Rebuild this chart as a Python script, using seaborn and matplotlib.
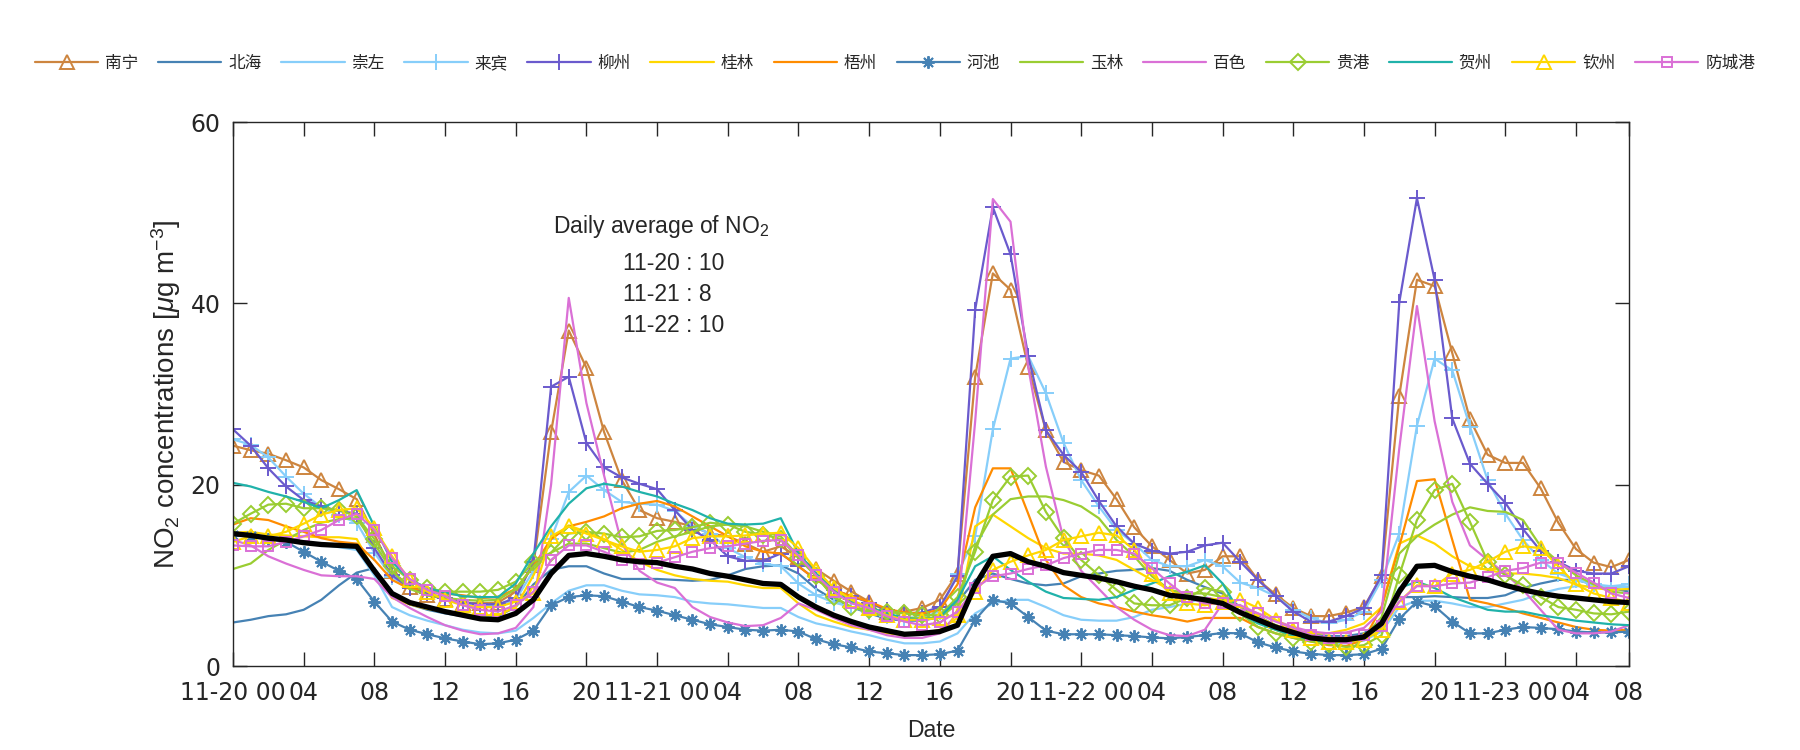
import numpy as np
import seaborn as sns
import matplotlib.pyplot as plt

# hourly NO2, 11-20 00:00 .. 11-23 07:00 (80 hours)
hours = np.arange(80)

cities = ["南宁", "北海", "崇左", "来宾", "柳州", "桂林", "梧州",
          "河池", "玉林", "百色", "贵港", "贺州", "钦州", "防城港"]

nanning = [24.3, 23.8, 23.4, 22.7, 21.9, 20.5, 19.5, 18.4, 14.5, 10.5, 8.7, 7.8, 7.4, 7.0, 6.9, 7.0, 8.2, 11.1, 25.8, 37.0, 32.9, 25.8, 20.5, 17.2,
           16.3, 15.9, 15.4, 14.6, 14.3, 13.5, 12.6, 13.2, 12.0, 10.7, 9.4, 8.2, 7.1, 6.0, 6.0, 6.4, 7.3, 10.2, 31.9, 43.3, 41.5, 33.0, 26.0, 22.5,
           21.6, 21.0, 18.4, 15.3, 13.2, 11.7, 10.2, 10.6, 12.1, 12.1, 9.5, 7.9, 6.4, 5.5, 5.5, 5.9, 6.5, 9.9, 29.8, 42.6, 41.9, 34.5, 27.2, 23.3,
           22.4, 22.4, 19.6, 15.8, 12.9, 11.4, 10.9, 11.7]
beihai = [4.8, 5.1, 5.5, 5.7, 6.2, 7.3, 8.9, 10.3, 10.8, 8.0, 6.8, 6.2, 5.8, 5.5, 5.3, 5.5, 6.5, 9.0, 10.6, 11.0, 11.0, 10.2, 9.6, 9.6,
          9.6, 9.5, 9.4, 9.5, 10.0, 10.7, 11.0, 11.1, 10.2, 8.5, 7.3, 6.5, 5.8, 5.2, 5.0, 5.0, 5.4, 7.0, 9.5, 10.2, 9.6, 9.1, 8.9, 9.1,
          9.9, 10.2, 10.5, 10.6, 10.8, 10.5, 9.5, 8.7, 8.0, 6.5, 5.5, 4.5, 3.8, 3.5, 3.3, 3.3, 3.6, 5.0, 7.6, 7.6, 7.7, 7.6, 7.5, 7.5,
          7.8, 8.6, 9.1, 9.5, 9.5, 9.0, 8.6, 8.2]
chongzuo = [14.6, 14.3, 14.1, 14.0, 13.7, 13.4, 13.1, 12.8, 10.0, 6.5, 5.6, 5.0, 4.5, 4.0, 3.7, 3.6, 3.9, 5.3, 6.9, 8.3, 8.9, 8.9, 8.3, 7.9,
            7.8, 7.6, 7.1, 6.9, 6.8, 6.6, 6.4, 6.4, 5.4, 4.7, 4.3, 3.8, 3.4, 2.9, 2.5, 2.5, 2.7, 3.6, 5.8, 6.9, 7.3, 7.3, 6.5, 5.6,
            5.1, 5.0, 5.0, 5.4, 6.2, 6.5, 6.9, 7.6, 7.1, 6.0, 4.9, 4.2, 3.6, 3.0, 2.6, 2.5, 2.8, 3.8, 6.5, 7.2, 7.2, 6.9, 6.5, 6.5,
            6.9, 7.3, 8.0, 8.5, 8.8, 8.8, 8.7, 8.7]
laibin = [25.0, 24.4, 23.0, 20.9, 19.0, 17.5, 16.6, 15.8, 12.5, 9.8, 8.6, 8.0, 7.5, 7.0, 6.7, 6.7, 7.3, 10.5, 14.0, 19.2, 21.0, 19.4, 18.1, 17.9,
          17.8, 17.1, 15.4, 14.6, 13.0, 12.0, 11.3, 11.0, 9.1, 7.8, 7.0, 6.5, 6.0, 5.5, 5.3, 5.4, 6.0, 10.2, 14.3, 26.1, 33.9, 34.2, 30.1, 24.6,
          20.5, 17.6, 15.0, 13.5, 11.7, 11.0, 11.0, 11.7, 11.0, 9.2, 8.6, 7.7, 6.2, 5.3, 4.7, 5.1, 6.0, 9.5, 14.6, 26.5, 33.9, 32.6, 26.4, 20.5,
          16.8, 13.9, 11.7, 10.2, 9.5, 9.0, 8.8, 9.0]
liuzhou = [26.1, 24.3, 21.8, 19.8, 18.3, 17.6, 17.1, 16.8, 13.0, 10.0, 8.6, 8.0, 7.5, 7.0, 6.8, 6.8, 7.5, 11.5, 30.8, 31.9, 24.6, 21.9, 20.8, 20.1,
           19.5, 17.2, 15.0, 13.9, 12.1, 11.6, 11.6, 12.4, 11.0, 9.5, 8.4, 7.7, 7.0, 6.2, 5.8, 5.9, 6.5, 9.9, 39.3, 50.6, 45.4, 34.2, 26.0, 23.3,
           21.4, 18.2, 15.4, 13.5, 12.7, 12.4, 12.6, 13.3, 13.6, 11.5, 9.5, 7.7, 6.0, 4.9, 4.9, 5.5, 6.4, 10.0, 40.1, 51.6, 42.6, 27.3, 22.3, 20.1,
           18.0, 15.1, 12.7, 11.5, 10.5, 10.2, 10.2, 11.0]
guilin = [14.7, 14.8, 14.5, 14.4, 14.3, 14.2, 14.2, 14.0, 10.5, 7.5, 6.8, 6.3, 6.0, 5.7, 5.6, 5.6, 6.5, 10.0, 14.0, 15.5, 14.8, 14.0, 12.8, 11.5,
          10.6, 10.0, 9.6, 9.4, 9.3, 8.9, 8.6, 8.6, 6.9, 5.6, 4.9, 4.3, 4.0, 3.6, 3.4, 3.6, 4.0, 5.3, 15.4, 16.7, 15.4, 14.1, 13.0, 12.4,
          12.4, 12.2, 11.7, 10.6, 9.5, 8.4, 7.6, 7.5, 7.3, 6.5, 5.4, 4.5, 4.0, 3.6, 3.6, 4.0, 4.7, 6.5, 13.5, 14.4, 13.5, 12.1, 11.0, 10.6,
          10.2, 10.2, 10.0, 9.7, 9.0, 8.6, 8.4, 8.5]
wuzhou = [15.6, 16.3, 16.1, 15.4, 14.8, 14.1, 13.7, 13.5, 11.7, 9.5, 8.5, 8.4, 8.0, 7.8, 7.5, 7.6, 8.5, 11.0, 14.0, 15.4, 15.9, 16.5, 17.4, 17.9,
          18.2, 17.6, 16.5, 15.4, 14.3, 13.2, 12.6, 12.4, 11.0, 9.5, 8.4, 7.7, 7.1, 6.3, 5.9, 5.8, 6.2, 9.0, 17.5, 21.8, 21.8, 16.8, 11.7, 8.9,
          7.6, 6.9, 6.5, 6.0, 5.6, 5.3, 4.9, 5.3, 5.3, 5.3, 4.3, 3.6, 3.1, 2.7, 2.3, 2.2, 2.9, 6.5, 13.2, 20.4, 20.6, 13.9, 7.3, 6.9,
          6.4, 5.8, 5.3, 4.8, 4.3, 4.0, 3.9, 4.0]
hechi = [14.5, 14.3, 14.0, 13.7, 12.6, 11.5, 10.5, 9.6, 7.1, 4.9, 4.0, 3.5, 3.05, 2.7, 2.4, 2.5, 2.9, 3.9, 6.7, 7.6, 7.8, 7.7, 7.1, 6.5,
         6.1, 5.6, 5.1, 4.6, 4.3, 4.0, 3.9, 4.0, 3.8, 2.95, 2.4, 2.05, 1.6, 1.4, 1.2, 1.2, 1.3, 1.7, 5.1, 7.3, 6.9, 5.4, 3.9, 3.5,
         3.5, 3.5, 3.4, 3.3, 3.15, 3.05, 3.2, 3.4, 3.65, 3.6, 2.6, 2.05, 1.6, 1.35, 1.2, 1.2, 1.3, 1.9, 5.2, 7.1, 6.6, 4.9, 3.6, 3.6,
         4.0, 4.3, 4.2, 4.05, 3.8, 3.7, 3.7, 3.8]
yulin = [10.7, 11.3, 12.8, 13.9, 15.0, 15.8, 16.2, 16.3, 13.5, 10.5, 8.5, 7.8, 7.5, 7.3, 7.2, 7.3, 8.5, 11.0, 12.5, 13.5, 13.5, 13.0, 12.5, 12.8,
         13.7, 14.3, 14.8, 15.4, 15.6, 15.4, 14.8, 14.3, 12.1, 9.9, 7.6, 6.5, 6.0, 5.4, 5.3, 5.3, 5.3, 6.9, 13.2, 16.7, 18.4, 18.7, 18.7, 18.3,
         17.6, 16.3, 13.9, 12.1, 9.9, 8.4, 8.0, 8.0, 7.6, 5.8, 4.9, 4.0, 3.2, 2.9, 2.7, 2.7, 3.1, 5.4, 12.4, 14.3, 15.6, 16.7, 17.5, 17.1,
         17.0, 16.1, 13.2, 11.5, 10.0, 9.0, 8.2, 8.0]
baise = [13.9, 13.3, 12.1, 11.3, 10.6, 10.0, 9.9, 9.9, 9.6, 7.6, 6.4, 5.4, 4.5, 3.9, 3.5, 3.6, 4.2, 6.5, 20.0, 40.6, 29.0, 21.0, 13.5, 10.5,
         9.2, 8.6, 6.5, 5.4, 4.8, 4.4, 4.5, 5.3, 6.9, 6.2, 5.3, 4.5, 4.0, 3.4, 3.1, 3.1, 3.6, 5.8, 27.0, 51.5, 49.0, 33.0, 22.0, 14.0,
         10.5, 8.5, 6.5, 5.1, 4.0, 3.4, 3.3, 4.0, 6.9, 6.5, 5.8, 5.0, 4.3, 3.8, 3.6, 3.7, 4.2, 6.0, 24.0, 39.7, 27.0, 18.1, 13.3, 11.7,
         10.2, 8.4, 6.2, 4.0, 3.6, 3.6, 3.8, 4.5]
guigang = [15.7, 16.8, 17.8, 17.9, 17.4, 17.4, 17.2, 16.5, 14.0, 11.0, 9.5, 8.6, 8.2, 8.2, 8.2, 8.4, 9.3, 11.5, 12.5, 14.6, 14.8, 14.6, 14.2, 14.3,
           14.9, 15.0, 15.3, 15.8, 15.6, 14.8, 14.5, 14.0, 11.9, 9.9, 7.6, 6.5, 6.2, 6.0, 5.8, 5.6, 5.6, 7.6, 12.6, 18.3, 20.9, 21.0, 17.0, 14.1,
           11.7, 10.0, 8.4, 6.9, 6.7, 6.7, 7.5, 8.6, 8.2, 5.8, 4.3, 3.6, 3.1, 2.7, 2.4, 2.1, 2.3, 3.4, 10.0, 16.1, 19.4, 20.1, 15.9, 11.5,
           10.0, 8.9, 7.6, 6.5, 6.2, 5.8, 5.7, 6.0]
hezhou = [20.2, 19.8, 19.2, 18.7, 18.1, 17.4, 18.3, 19.4, 15.4, 11.5, 9.5, 8.6, 8.1, 7.7, 7.6, 7.6, 9.1, 12.4, 15.4, 17.9, 19.6, 20.1, 19.8, 19.2,
          18.7, 17.9, 17.2, 16.3, 15.7, 15.6, 15.7, 16.3, 12.4, 10.2, 8.4, 7.1, 6.5, 5.8, 5.3, 5.1, 5.4, 7.3, 11.0, 12.1, 10.6, 9.3, 8.2, 7.5,
          7.4, 7.3, 7.6, 8.4, 9.1, 9.9, 10.4, 11.1, 9.1, 5.8, 4.7, 4.0, 3.4, 2.9, 2.7, 2.7, 3.1, 4.7, 8.6, 9.3, 8.6, 7.6, 6.9, 6.2,
          6.0, 6.0, 5.6, 5.3, 5.0, 4.8, 4.6, 4.5]
qinzhou = [13.7, 14.3, 14.3, 14.8, 15.7, 16.7, 17.2, 17.4, 15.2, 12.1, 9.5, 8.2, 7.3, 6.7, 6.5, 6.5, 7.1, 8.0, 14.3, 15.4, 14.6, 13.9, 13.2, 12.6,
           12.8, 13.2, 14.1, 14.3, 14.3, 14.4, 14.6, 14.7, 13.0, 10.6, 8.6, 7.3, 6.4, 5.6, 5.1, 5.1, 5.3, 5.6, 8.2, 10.6, 11.5, 12.2, 12.8, 13.9,
           14.3, 14.7, 14.4, 12.8, 10.2, 8.0, 6.9, 6.7, 7.1, 7.3, 6.4, 5.1, 4.0, 3.1, 2.7, 2.7, 2.9, 4.0, 7.1, 8.9, 8.8, 10.2, 10.6, 11.5,
           12.6, 13.2, 13.0, 11.0, 9.0, 8.0, 7.5, 7.0]
fangchenggang = [13.3, 13.2, 13.2, 13.7, 14.3, 15.0, 16.1, 16.8, 15.0, 11.9, 9.6, 8.4, 7.7, 6.7, 6.2, 6.0, 6.7, 8.2, 11.7, 13.3, 13.3, 12.6, 11.7, 11.3,
                 11.4, 12.0, 12.6, 13.0, 13.2, 13.5, 13.8, 13.9, 12.2, 10.0, 8.2, 6.9, 6.4, 5.5, 4.9, 4.5, 4.8, 6.0, 8.6, 9.9, 10.2, 10.7, 11.1, 11.9,
                 12.4, 12.8, 12.8, 12.4, 10.8, 9.1, 7.6, 6.9, 6.9, 6.7, 5.8, 4.9, 4.2, 3.4, 3.1, 3.1, 3.4, 4.4, 7.1, 8.8, 8.8, 9.1, 9.2, 9.8,
                 10.5, 10.8, 11.4, 11.4, 10.3, 9.2, 8.0, 7.5]
average = [14.6, 14.4, 14.1, 13.9, 13.6, 13.4, 13.3, 13.2, 10.5, 8.0, 7.0, 6.5, 6.0, 5.6, 5.2, 5.1, 5.8, 7.3, 10.2, 12.2, 12.4, 12.1, 11.7, 11.5,
           11.4, 11.0, 10.7, 10.2, 9.9, 9.5, 9.1, 9.0, 7.6, 6.5, 5.6, 4.9, 4.3, 3.9, 3.5, 3.6, 3.8, 4.5, 8.9, 12.1, 12.4, 11.5, 11.0, 10.3,
           10.0, 9.7, 9.3, 8.8, 8.4, 7.8, 7.6, 7.3, 6.9, 5.9, 5.1, 4.3, 3.7, 3.1, 2.9, 2.9, 3.2, 4.7, 8.2, 11.0, 11.1, 10.4, 9.9, 9.5,
           8.9, 8.4, 8.0, 7.7, 7.5, 7.3, 7.1, 7.0]

series = [nanning, beihai, chongzuo, laibin, liuzhou, guilin, wuzhou,
          hechi, yulin, baise, guigang, hezhou, qinzhou, fangchenggang]

tick_hours = [0, 4, 8, 12, 16, 20, 24, 28, 32, 36, 40, 44, 48, 52, 56, 60, 64, 68, 72, 76, 79]
tick_labels = ["11-20 00", "04", "08", "12", "16", "20",
               "11-21 00", "04", "08", "12", "16", "20",
               "11-22 00", "04", "08", "12", "16", "20",
               "11-23 00", "04", "08"]

avg_days = ["11-20", "11-21", "11-22"]
avg_values = [10, 8, 10]

# colour, marker, marker size
styles = {
    "南宁": ("#CD853F", "^", 10),
    "北海": ("#4682B4", None, 0),
    "崇左": ("#87CEFA", None, 0),
    "来宾": ("#87CEFA", "+", 11),
    "柳州": ("#6A5ACD", "+", 11),
    "桂林": ("#FFD700", None, 0),
    "梧州": ("#FF8C00", None, 0),
    "河池": ("#4682B4", (8, 2, 0), 9),
    "玉林": ("#9ACD32", None, 0),
    "百色": ("#DA70D6", None, 0),
    "贵港": ("#9ACD32", "D", 8),
    "贺州": ("#20B2AA", None, 0),
    "钦州": ("#FFD700", "^", 10),
    "防城港": ("#DA70D6", "s", 7),
}

sns.set_style("ticks")
plt.rcParams["font.family"] = ["Liberation Sans", "Noto Sans CJK SC", "DejaVu Sans"]
plt.rcParams["mathtext.fontset"] = "custom"
plt.rcParams["mathtext.rm"] = "Liberation Sans"
plt.rcParams["mathtext.it"] = "Liberation Sans:italic"

fig = plt.figure(figsize=(18, 7.5), dpi=100)
ax = fig.add_axes([233 / 1800, 84 / 750, 1396 / 1800, 544 / 750])

for city, vals in zip(cities, series):
    col, mk, ms = styles[city]
    if mk is None:
        sns.lineplot(x=hours, y=vals, ax=ax, color=col, linewidth=1.6,
                     label=city, legend=False)
    else:
        sns.lineplot(x=hours, y=vals, ax=ax, color=col, linewidth=1.6,
                     marker=mk, markersize=ms, markerfacecolor="none",
                     markeredgecolor=col, markeredgewidth=1.4,
                     label=city, legend=False)

sns.lineplot(x=hours, y=average, ax=ax, color="black", linewidth=3.8, legend=False)

ax.set_xlim(0, 79)
ax.set_ylim(0, 60)
ax.set_xticks(tick_hours, tick_labels)
ax.set_yticks([0, 20, 40, 60])
ax.tick_params(direction="in", length=10, width=1, top=True, right=True,
               labelsize=17, colors="#262626")
ax.tick_params(axis="x", pad=11)
ax.tick_params(axis="y", pad=9)
for lab in ax.get_xticklabels() + ax.get_yticklabels():
    lab.set_family("DejaVu Sans")
for sp in ax.spines.values():
    sp.set_visible(True)
    sp.set_linewidth(1.0)
    sp.set_color("#262626")

ax.set_xlabel("Date", fontsize=16.5, color="#262626")
ax.xaxis.set_label_coords(0.5, -0.098)
ax.set_ylabel(r"NO$_2$ concentrations [$\mu$g m$^{-3}$]", fontsize=20, color="#262626")
ax.yaxis.set_label_coords(-0.036, 0.5)

fig.text(553 / 1800, 1 - 233 / 750, r"Daily average of NO$_2$", fontsize=16.5, va="baseline")
for i, (d, v) in enumerate(zip(avg_days, avg_values)):
    fig.text(623 / 1800, 1 - (270 + 31 * i) / 750, f"{d} : {v}", fontsize=16.5, va="baseline")

handles, labels = ax.get_legend_handles_labels()
fig.legend(handles, labels, loc="center", ncol=14, mode="expand",
           bbox_to_anchor=(35 / 1800, 1 - 63 / 750 - 0.02, 1720 / 1800, 0.04),
           frameon=False, fontsize=12, handlelength=3.8, handletextpad=0.4,
           borderaxespad=0, borderpad=0)

fig.savefig("out.png", dpi=100)
